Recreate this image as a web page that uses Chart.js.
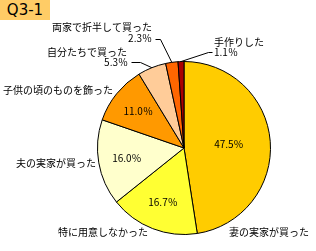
<!DOCTYPE html>
<html>
<head>
<meta charset="utf-8">
<script src="https://cdn.jsdelivr.net/npm/chart.js@4/dist/chart.umd.min.js"></script>
<style>
html, body { margin: 0; padding: 0; background: #fff; }
#wrap { position: relative; width: 316px; height: 251px; }
#c { position: absolute; left: 0; top: 0; }
#title { position: absolute; left: 0; top: 0; width: 50px; height: 20px; background: #FFCC66;
  font: 15px "DejaVu Sans"; line-height: 20px; text-align: center; color: #000; z-index: 2; }
</style>
</head>
<body>
<div id="wrap">
  <div id="title">Q3-1</div>
  <canvas id="c" width="316" height="251"></canvas>
</div>
<script>
const categories = ['妻の実家が買った', '特に用意しなかった', '夫の実家が買った', '子供の頃のものを飾った', '自分たちで買った', '両家で折半して買った', '手作りした'];
const values = [47.5, 16.7, 16.0, 11.0, 5.3, 2.3, 1.1];
const colors = ['#FFCC00', '#FFFF33', '#FFFFCC', '#FF9900', '#FFCC99', '#FF6600', '#AA0000'];

// label placement, offsets from the pie centre
const placement = [
  { inner: 0.52, name: [45, 84, 'left'] },
  { inner: 0.67, name: [-126, 84, 'left'] },
  { inner: 0.67, name: [-168, 15, 'left'] },
  { inner: 0.68, name: [-181, -58, 'left'] },
  { name: [-57, -96, 'right'], pct: [-56, -86, 'right'], lead: [[-53, -86], [-44, -86]] },
  { name: [-32, -121, 'right'], pct: [-32, -110, 'right'], lead: [[-29, -109], [-24, -109]] },
  { name: [30, -106, 'left'], pct: [30, -96, 'left'], lead: [[28, -96], [24, -96]] }
];

const labelPlugin = {
  id: 'pieLabels',
  afterDatasetsDraw(chart) {
    const ctx = chart.ctx;
    const arcs = chart.getDatasetMeta(0).data;
    ctx.save();
    ctx.font = '10px "Noto Sans CJK JP"';
    ctx.fillStyle = '#000';
    ctx.strokeStyle = '#000';
    ctx.lineWidth = 1;
    ctx.textBaseline = 'middle';
    arcs.forEach((arc, i) => {
      const p = placement[i];
      const cx = arc.x, cy = arc.y, r = arc.outerRadius;
      const mid = (arc.startAngle + arc.endAngle) / 2;
      const pct = values[i].toFixed(1) + '％';
      if (p.inner) {
        ctx.textAlign = 'center';
        ctx.fillText(pct, cx + Math.cos(mid) * r * p.inner, cy + Math.sin(mid) * r * p.inner);
      } else {
        ctx.textAlign = p.pct[2];
        ctx.fillText(pct, cx + p.pct[0], cy + p.pct[1]);
        ctx.beginPath();
        ctx.moveTo(cx + p.lead[0][0] + 0.5, cy + p.lead[0][1] + 0.5);
        ctx.lineTo(cx + p.lead[1][0] + 0.5, cy + p.lead[1][1] + 0.5);
        ctx.lineTo(cx + Math.cos(mid) * r, cy + Math.sin(mid) * r);
        ctx.stroke();
      }
      ctx.textAlign = p.name[2];
      ctx.fillText(categories[i], cx + p.name[0], cy + p.name[1]);
    });
    ctx.restore();
  }
};

new Chart(document.getElementById('c').getContext('2d'), {
  type: 'pie',
  data: {
    labels: categories,
    datasets: [{
      data: values,
      backgroundColor: colors,
      borderColor: '#000',
      borderWidth: 1
    }]
  },
  options: {
    responsive: false,
    animation: false,
    layout: { padding: { left: 97, right: 45, top: 61, bottom: 16 } },
    plugins: { legend: { display: false }, tooltip: { enabled: false } }
  },
  plugins: [labelPlugin]
});
</script>
</body>
</html>
